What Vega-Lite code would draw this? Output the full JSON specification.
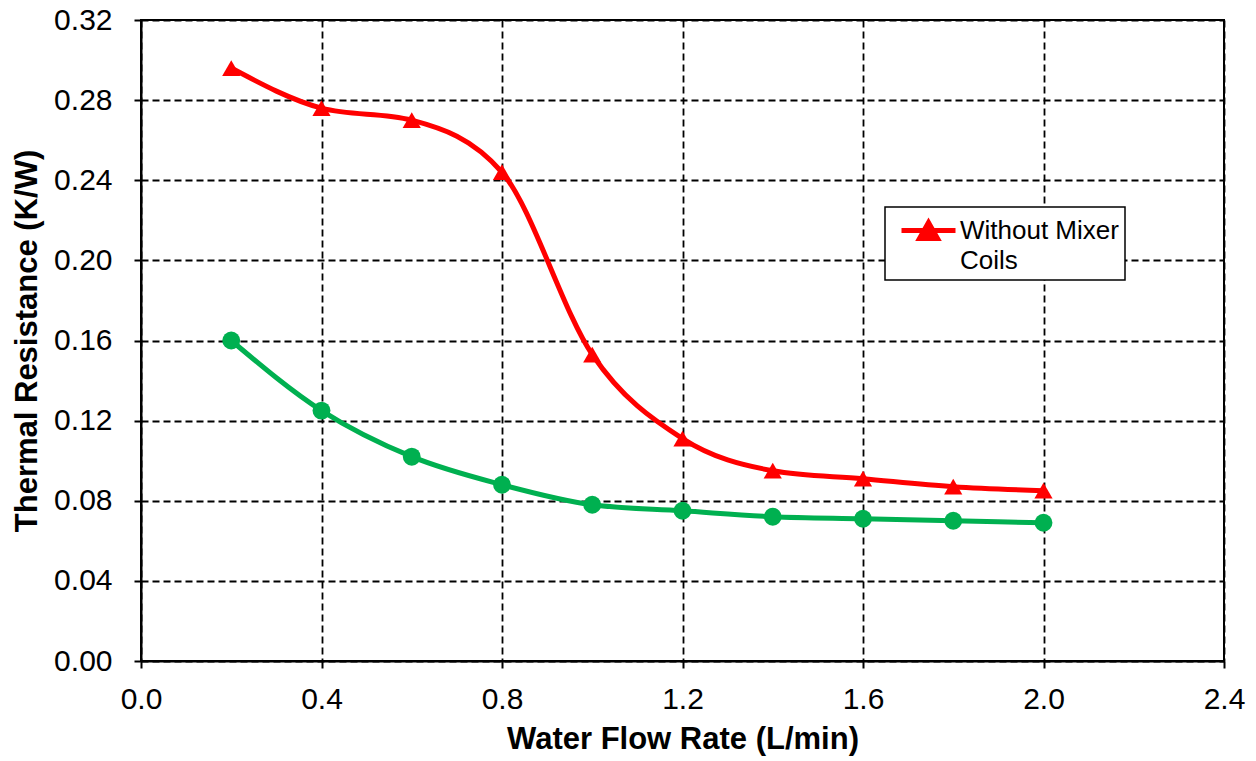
{
  "$schema": "https://vega.github.io/schema/vega-lite/v6.json",
  "autosize": {"type": "none"},
  "padding": {"left": 141, "top": 20, "right": 32, "bottom": 100},
  "width": 1083,
  "height": 641,
  "background": "white",
  "config": {
    "font": "Liberation Sans",
    "view": {"stroke": "black", "strokeWidth": 2},
    "axis": {
      "domainColor": "black",
      "domainWidth": 2,
      "tickColor": "black",
      "tickWidth": 2,
      "tickSize": 7,
      "labelFont": "Liberation Sans",
      "labelFontSize": 30,
      "labelColor": "black",
      "labelFlush": false,
      "labelOverlap": false,
      "titleFont": "Liberation Sans",
      "titleFontSize": 31,
      "titleFontWeight": "bold",
      "titleColor": "black",
      "gridColor": "black",
      "gridWidth": 1.8,
      "gridDash": [7, 4],
      "gridOpacity": 1
    }
  },
  "data": {
    "values": [
      {"flow": 0.2, "r": 0.296, "series": "Without Mixer Coils"},
      {"flow": 0.4, "r": 0.276, "series": "Without Mixer Coils"},
      {"flow": 0.6, "r": 0.270, "series": "Without Mixer Coils"},
      {"flow": 0.8, "r": 0.244, "series": "Without Mixer Coils"},
      {"flow": 1.0, "r": 0.153, "series": "Without Mixer Coils"},
      {"flow": 1.2, "r": 0.111, "series": "Without Mixer Coils"},
      {"flow": 1.4, "r": 0.095, "series": "Without Mixer Coils"},
      {"flow": 1.6, "r": 0.091, "series": "Without Mixer Coils"},
      {"flow": 1.8, "r": 0.087, "series": "Without Mixer Coils"},
      {"flow": 2.0, "r": 0.085, "series": "Without Mixer Coils"},
      {"flow": 0.2, "r": 0.160, "series": "With Mixer Coils"},
      {"flow": 0.4, "r": 0.125, "series": "With Mixer Coils"},
      {"flow": 0.6, "r": 0.102, "series": "With Mixer Coils"},
      {"flow": 0.8, "r": 0.088, "series": "With Mixer Coils"},
      {"flow": 1.0, "r": 0.078, "series": "With Mixer Coils"},
      {"flow": 1.2, "r": 0.075, "series": "With Mixer Coils"},
      {"flow": 1.4, "r": 0.072, "series": "With Mixer Coils"},
      {"flow": 1.6, "r": 0.071, "series": "With Mixer Coils"},
      {"flow": 1.8, "r": 0.070, "series": "With Mixer Coils"},
      {"flow": 2.0, "r": 0.069, "series": "With Mixer Coils"}
    ]
  },
  "encoding": {
    "x": {
      "field": "flow",
      "type": "quantitative",
      "title": "Water Flow Rate (L/min)",
      "scale": {"domain": [0, 2.4], "nice": false, "zero": true},
      "axis": {"values": [0, 0.4, 0.8, 1.2, 1.6, 2.0, 2.4], "format": ".1f", "labelPadding": 16, "titlePadding": 10}
    },
    "y": {
      "field": "r",
      "type": "quantitative",
      "title": "Thermal Resistance (K/W)",
      "scale": {"domain": [0, 0.32], "nice": false},
      "axis": {"values": [0, 0.04, 0.08, 0.12, 0.16, 0.2, 0.24, 0.28, 0.32], "format": ".2f", "labelPadding": 22, "titlePadding": 10}
    }
  },
  "layer": [
    {
      "transform": [{"filter": "datum.series === 'With Mixer Coils'"}],
      "mark": {"type": "line", "interpolate": "monotone", "color": "#00B050", "strokeWidth": 5},
      "encoding": {}
    },
    {
      "transform": [{"filter": "datum.series === 'With Mixer Coils'"}],
      "mark": {"type": "point", "shape": "circle", "filled": true, "size": 320, "color": "#00B050", "opacity": 1},
      "encoding": {}
    },
    {
      "transform": [{"filter": "datum.series === 'Without Mixer Coils'"}],
      "mark": {"type": "line", "interpolate": "monotone", "strokeWidth": 5},
      "encoding": {
        "color": {
          "field": "series",
          "type": "nominal",
          "scale": {"domain": ["Without Mixer Coils"], "range": ["#FF0000"]},
          "legend": {
            "title": null,
            "orient": "none",
            "legendX": 744,
            "legendY": 187,
            "direction": "vertical",
            "fillColor": "white",
            "strokeColor": "black",
            "padding": 6,
            "symbolOffset": 20,
            "symbolType": "M-1.8,0H1.8M-0.6,0.53L0,-0.53L0.6,0.53Z",
            "symbolSize": 900,
            "symbolStrokeWidth": 5,
            "symbolFillColor": "#FF0000",
            "symbolStrokeColor": "#FF0000",
            "labelOffset": 14,
            "labelFont": "Liberation Sans",
            "labelFontSize": 26,
            "labelColor": "black",
            "labelLimit": 400,
            "labelExpr": "['Without Mixer', 'Coils']",
            "encode": {
              "legend": {"update": {"strokeWidth": {"value": 1.5}}},
              "labels": {"update": {"lineHeight": {"value": 30}}}
            }
          }
        }
      }
    },
    {
      "transform": [{"filter": "datum.series === 'Without Mixer Coils'"}],
      "mark": {"type": "point", "shape": "triangle-up", "filled": true, "size": 330, "color": "#FF0000", "opacity": 1},
      "encoding": {}
    }
  ]
}
